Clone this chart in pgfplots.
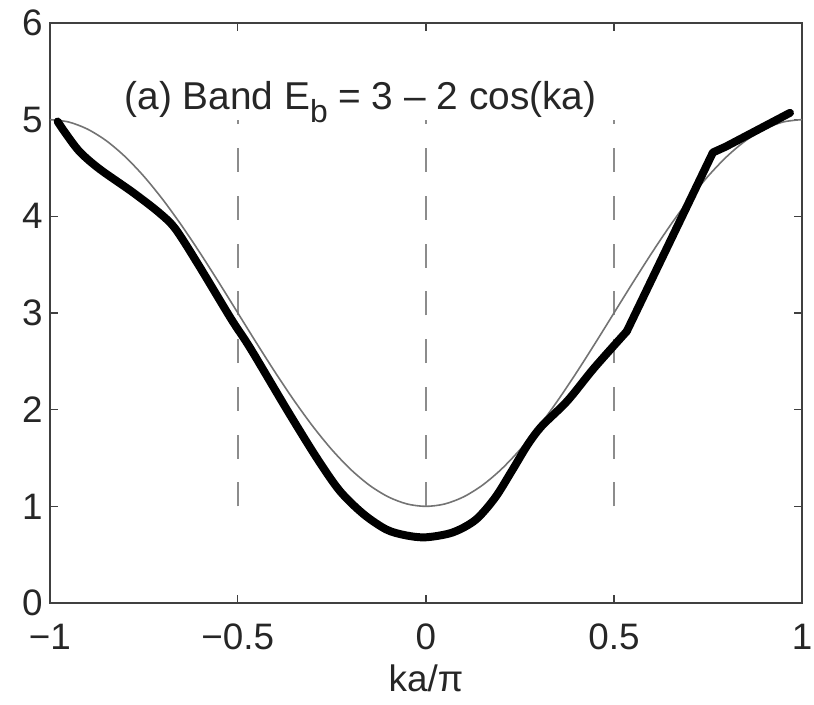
\documentclass[border=0pt]{standalone}
\usepackage{fontspec}
\setmainfont{Liberation Sans}
\usepackage{pgfplots}
\pgfplotsset{compat=1.18}

\begin{document}
\begin{tikzpicture}
\useasboundingbox (-25pt,-51pt) rectangle (384pt,303pt);
\begin{axis}[
    scale only axis,
    width=378pt, height=291.5pt,
    xmin=-1, xmax=1, ymin=0, ymax=6,
    xtick={-1,-0.5,0,0.5,1},
    xticklabels={−1,−0.5,0,0.5,1},
    ytick={0,1,2,3,4,5,6},
    tick align=inside,
    major tick length=4pt,
    tick style={black!75, line width=0.6pt},
    axis line style={black!75, line width=0.8pt},
    ticklabel style={font=\fontsize{18.5}{20}\selectfont, text=black!85},
    /pgf/number format/assume math mode=true,
    xticklabel style={anchor=base, yshift=-23.5pt},
    xlabel={ka/π},
    xlabel style={at={(rel axis cs:0.5,0)}, anchor=base, yshift=-44.5pt,
      font=\fontsize{18.5}{20}\selectfont, text=black!85},
  ]
  % dashed guide lines
  \addplot[black!45, line width=1pt, dash pattern=on 12pt off 12pt] coordinates {(-0.5,1) (-0.5,5)};
  \addplot[black!45, line width=1pt, dash pattern=on 12pt off 12pt] coordinates {(0,1) (0,5)};
  \addplot[black!45, line width=1pt, dash pattern=on 12pt off 12pt] coordinates {(0.5,1) (0.5,5)};

  % thin band curve
  \addplot[black!55, line width=0.8pt, smooth] coordinates {
    (-1,5) (-0.95,4.9754) (-0.9,4.9021) (-0.85,4.7820) (-0.8,4.6180)
    (-0.75,4.4142) (-0.7,4.1756) (-0.65,3.9080) (-0.6,3.6180) (-0.55,3.3129)
    (-0.5,3) (-0.45,2.6871) (-0.4,2.3820) (-0.35,2.0920) (-0.3,1.8244)
    (-0.25,1.5858) (-0.2,1.3820) (-0.15,1.2180) (-0.1,1.0979) (-0.05,1.0246)
    (0,1) (0.05,1.0246) (0.1,1.0979) (0.15,1.2180) (0.2,1.3820)
    (0.25,1.5858) (0.3,1.8244) (0.35,2.0920) (0.4,2.3820) (0.45,2.6871)
    (0.5,3) (0.55,3.3129) (0.6,3.6180) (0.65,3.9080) (0.7,4.1756)
    (0.75,4.4142) (0.8,4.6180) (0.85,4.7820) (0.9,4.9021) (0.95,4.9754) (1,5)
  };

  % thick curve: smooth part, then straight segments
  \addplot[black, line width=4pt, line join=round, line cap=round, smooth, tension=0.5] coordinates {
    (-0.979,4.98) (-0.96,4.87) (-0.921,4.67) (-0.868,4.49) (-0.78,4.25)
    (-0.71,4.04) (-0.666,3.87) (-0.605,3.50) (-0.518,2.94) (-0.466,2.63)
    (-0.368,1.99) (-0.29,1.50) (-0.229,1.16) (-0.166,0.92) (-0.105,0.76)
    (-0.053,0.70) (0,0.68) (0.071,0.73) (0.132,0.86) (0.184,1.09)
    (0.229,1.37) (0.271,1.64) (0.308,1.83) (0.376,2.09) (0.447,2.43)
    (0.534,2.81)
  };
  \addplot[black, line width=4pt, line join=round, line cap=round] coordinates {
    (0.534,2.81) (0.763,4.66) (0.797,4.72) (0.968,5.07)
  };

  \node[anchor=base, font=\fontsize{19.5}{22}\selectfont, text=black!85]
    at (axis cs:-0.174,5.10)
    {(a) Band E\raisebox{-0.32em}{\fontsize{16}{16}\selectfont b} = 3 – 2 cos(ka)};
\end{axis}
\end{tikzpicture}
\end{document}
